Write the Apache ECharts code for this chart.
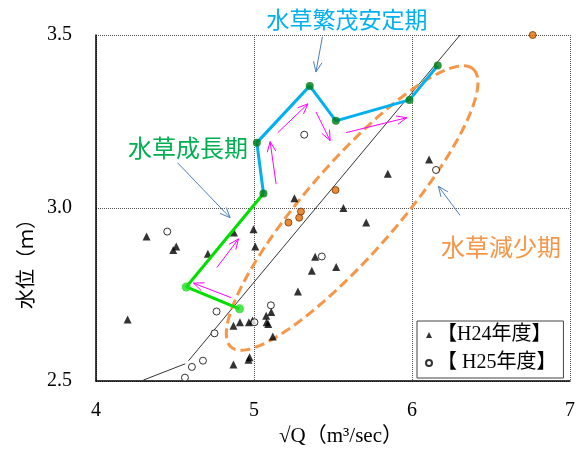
<!DOCTYPE html>
<html>
<head>
<meta charset="utf-8">
<script src="https://cdn.jsdelivr.net/npm/echarts@6/dist/echarts.min.js"></script>
<style>
  html, body { margin: 0; padding: 0; background: #fff; }
  #chart { width: 579px; height: 452px; }
</style>
</head>
<body>
<div id="chart"></div>
<script>
// Axis ticks
const xTicks = [4, 5, 6, 7];
const yTicks = [2.5, 3.0, 3.5];

// Observations: [√Q (m3/sec), stage (m)]
const h24 = [
  [4.200, 2.678], [4.320, 2.918], [4.489, 2.879], [4.508, 2.889], [4.708, 2.868],
  [4.873, 2.929], [4.997, 2.939], [5.008, 2.889], [4.870, 2.660], [4.911, 2.670],
  [4.968, 2.670], [4.991, 2.675], [5.077, 2.689], [5.109, 2.700], [5.080, 2.670],
  [5.090, 2.665], [5.119, 2.629], [4.972, 2.569], [4.965, 2.562], [4.870, 2.548],
  [5.256, 3.028], [5.278, 2.759], [5.366, 2.819], [5.387, 2.859], [5.520, 2.830],
  [5.566, 3.000], [5.710, 2.958], [5.847, 3.099], [6.108, 3.140]
];
const h25 = [
  [4.451, 2.932], [4.563, 2.510], [4.607, 2.541], [4.677, 2.559], [4.750, 2.638],
  [4.763, 2.701], [5.003, 2.670], [5.107, 2.719], [5.318, 3.212], [5.429, 2.860],
  [6.152, 3.110]
];
const declinePts = [[5.218, 2.958], [5.286, 2.972], [5.297, 2.990], [5.516, 3.052], [6.764, 3.500]];

// Seasonal paths
const growthPath = [[4.908, 2.709], [4.571, 2.772], [5.060, 3.042]];
const stablePath = [[5.060, 3.042], [5.018, 3.189], [5.353, 3.353], [5.518, 3.252], [5.984, 3.3125], [6.163, 3.412]];
const growthDots = [[4.908, 2.709], [4.571, 2.772]];

// Rating curve (two branches)
const ratingLow = [[4.30, 2.503], [4.565, 2.550]];
const ratingHigh = [[4.586, 2.559], [6.304, 3.500]];

// Annotation geometry in data units
const declineEllipse = { center: [5.621, 3.0], major: [6.386, 3.402], minor: [5.842, 2.915] };
const flowArrows = [
  [5.140, 3.069, 5.102, 3.192], [5.151, 3.218, 5.341, 3.301], [5.392, 3.278, 5.482, 3.195],
  [5.583, 3.218, 5.967, 3.261], [4.765, 2.828, 4.902, 2.911], [4.856, 2.741, 4.617, 2.783]
];
const calloutArrows = [
  [5.433, 3.495, 5.392, 3.393], [4.516, 3.131, 4.849, 2.972], [6.304, 2.979, 6.167, 3.063]
];

const chart = echarts.init(document.getElementById('chart'), null, { renderer: 'canvas' });

function arrowRenderer(color, headLen, spread) {
  return function (params, api) {
    const p1 = api.coord([api.value(0), api.value(1)]);
    const p2 = api.coord([api.value(2), api.value(3)]);
    const ang = Math.atan2(p2[1] - p1[1], p2[0] - p1[0]);
    const h1 = [p2[0] - headLen * Math.cos(ang - spread), p2[1] - headLen * Math.sin(ang - spread)];
    const h2 = [p2[0] - headLen * Math.cos(ang + spread), p2[1] - headLen * Math.sin(ang + spread)];
    return {
      type: 'group',
      children: [
        { type: 'line', shape: { x1: p1[0], y1: p1[1], x2: p2[0], y2: p2[1] },
          style: { stroke: color, lineWidth: 1 } },
        { type: 'polyline', shape: { points: [h1, p2, h2] },
          style: { stroke: color, fill: 'none', lineWidth: 1 } }
      ]
    };
  };
}

const serif = '"Liberation Serif", "Times New Roman", "Noto Sans CJK JP", serif';
const sans = '"Noto Sans CJK JP", "Noto Sans", sans-serif';

chart.setOption({
  animation: false,
  backgroundColor: '#fff',
  grid: { left: 96, right: 9, top: 35, bottom: 65 },
  xAxis: {
    type: 'value', min: xTicks[0], max: xTicks[xTicks.length - 1], interval: 1,
    name: '√Q（m³/sec）', nameLocation: 'middle', nameGap: 40,
    nameTextStyle: { fontFamily: serif, fontSize: 21, color: '#000', padding: [0, 0, 0, 16] },
    axisLine: { show: true, onZero: false, lineStyle: { color: '#000', width: 1.5 } },
    axisTick: { show: false },
    axisLabel: { fontFamily: serif, fontSize: 20, color: '#000', margin: 20 },
    splitLine: { show: true, lineStyle: { color: '#555', type: 'dotted', width: 1 } }
  },
  yAxis: {
    type: 'value', min: yTicks[0], max: yTicks[yTicks.length - 1], interval: 0.5,
    axisLine: { show: true, onZero: false, lineStyle: { color: '#000', width: 1.5 } },
    axisTick: { show: false },
    axisLabel: { fontFamily: serif, fontSize: 20, color: '#000', margin: 24,
      formatter: v => v.toFixed(1) },
    splitLine: { show: true, lineStyle: { color: '#555', type: 'dotted', width: 1 } }
  },
  legend: {
    orient: 'vertical', left: 417, top: 321,
    data: ['【H24年度】', '【 H25年度】'],
    borderColor: '#444', borderWidth: 1, padding: [4, 7, 5, 8],
    itemGap: 8, itemWidth: 6, itemHeight: 6,
    textStyle: { fontFamily: serif, fontSize: 20, color: '#000', lineHeight: 20 }
  },
  graphic: [
    { type: 'text', style: { text: '水草繁茂安定期', x: 347, y: 19, align: 'center', verticalAlign: 'middle',
      font: '23px ' + sans, fill: '#00B0F0' }, silent: true },
    { type: 'text', style: { text: '水草成長期', x: 188, y: 148, align: 'center', verticalAlign: 'middle',
      font: '24px ' + sans, fill: '#00B050' }, silent: true },
    { type: 'text', style: { text: '水草減少期', x: 501, y: 247, align: 'center', verticalAlign: 'middle',
      font: '24px ' + sans, fill: '#F79646' }, silent: true },
    { type: 'text', x: 25, y: 259, rotation: Math.PI / 2,
      style: { text: '水位（ｍ）', x: 0, y: 0, align: 'center', verticalAlign: 'middle',
      font: '20px ' + sans, fill: '#000' }, silent: true }
  ],
  series: [
    { type: 'line', data: ratingLow, symbol: 'none', z: 1,
      lineStyle: { color: '#000', width: 0.8 } },
    { type: 'line', data: ratingHigh, symbol: 'none', z: 1,
      lineStyle: { color: '#000', width: 0.8 } },
    { type: 'custom', z: 2, data: [declineEllipse.center], encode: { x: 0, y: 1 },
      renderItem: function (params, api) {
        const c = api.coord(declineEllipse.center);
        const a = api.coord(declineEllipse.major);
        const b = api.coord(declineEllipse.minor);
        const ax = a[0] - c[0], ay = a[1] - c[1], bx = b[0] - c[0], by = b[1] - c[1];
        const pts = [];
        for (let i = 0; i <= 200; i++) {
          const t = i / 200 * 2 * Math.PI;
          pts.push([c[0] + ax * Math.cos(t) + bx * Math.sin(t), c[1] + ay * Math.cos(t) + by * Math.sin(t)]);
        }
        return { type: 'polygon', shape: { points: pts },
          style: { fill: 'none', stroke: '#F79646', lineWidth: 3, lineDash: [10, 5] } };
      } },
    { name: '【H24年度】', type: 'scatter', data: h24, symbol: 'triangle', symbolSize: 8, z: 3,
      itemStyle: { color: '#000' } },
    { name: '【 H25年度】', type: 'scatter', data: h25, symbol: 'circle', symbolSize: 7, z: 3,
      itemStyle: { color: '#fff', borderColor: '#000', borderWidth: 1 } },
    { type: 'scatter', data: declinePts, symbol: 'circle', symbolSize: 7, z: 4,
      itemStyle: { color: '#E36C09', borderColor: '#7a3a00', borderWidth: 1 } },
    { type: 'custom', z: 4, data: flowArrows, encode: { x: [0, 2], y: [1, 3] },
      renderItem: arrowRenderer('#FF00FF', 11, 0.4) },
    { type: 'custom', z: 4, data: calloutArrows, encode: { x: [0, 2], y: [1, 3] },
      renderItem: arrowRenderer('#4F81BD', 11, 0.4) },
    { type: 'line', data: growthPath, symbol: 'none', z: 5,
      lineStyle: { color: '#00E000', width: 3 } },
    { type: 'line', data: stablePath, symbol: 'none', z: 5,
      lineStyle: { color: '#00B0F0', width: 3 } },
    { type: 'scatter', data: growthDots, symbol: 'circle', symbolSize: 9, z: 6,
      itemStyle: { color: '#22DD22' } },
    { type: 'scatter', data: stablePath, symbol: 'circle', symbolSize: 8, z: 6,
      itemStyle: { color: '#007A10' } }
  ]
});
</script>
</body>
</html>
